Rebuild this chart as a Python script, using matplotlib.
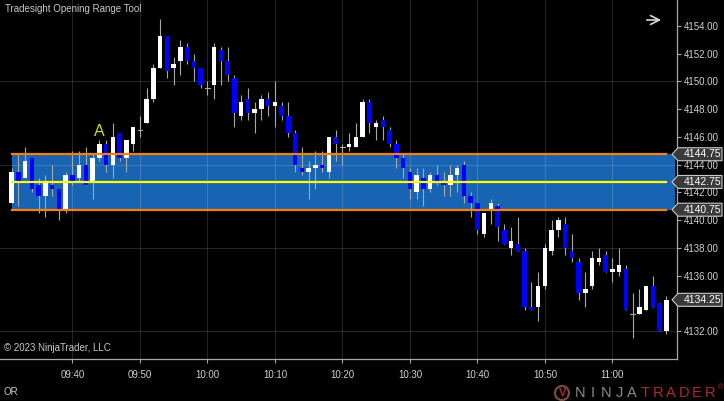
import numpy as np
import pandas as pd
import matplotlib
matplotlib.use('Agg')
import matplotlib.pyplot as plt
from matplotlib.patches import Rectangle, Polygon, Ellipse
from matplotlib.transforms import blended_transform_factory

plt.rcParams['font.family'] = ['Liberation Sans', 'DejaVu Sans']

# 1-minute bars, 09:31 .. 11:08
opens = [4141.25, 4143.5, 4143.0, 4144.5, 4142.5, 4141.75, 4142.5, 4142.25, 4140.75, 4143.25,
         4143.0, 4144.0, 4142.75, 4144.5, 4145.5, 4144.0, 4146.25, 4144.5, 4145.5, 4146.5,
         4147.0, 4148.75, 4151.0, 4153.25, 4151.0, 4151.5, 4152.5, 4151.5, 4151.0, 4149.5,
         4149.75, 4152.25, 4151.5, 4150.25, 4147.5, 4148.75, 4147.75, 4148.0, 4148.75, 4148.25,
         4148.25, 4147.5, 4146.25, 4143.75, 4143.5, 4143.75, 4144.0, 4143.5, 4146.0, 4145.25,
         4145.25, 4145.25, 4146.0, 4148.5, 4146.75, 4147.25, 4146.5, 4145.5, 4144.5, 4143.5,
         4142.0, 4143.0, 4142.25, 4143.25, 4142.75, 4142.5, 4143.25, 4144.0, 4141.75, 4141.25,
         4139.0, 4140.75, 4141.0, 4139.25, 4138.0, 4138.25, 4137.75, 4133.75, 4133.75, 4135.25,
         4137.75, 4139.25, 4139.75, 4137.75, 4137.0, 4134.75, 4135.25, 4137.0, 4137.5, 4136.25,
         4136.25, 4136.5, 4133.25, 4133.25, 4133.5, 4135.25, 4134.0, 4132.0]
highs = [4143.75, 4144.75, 4145.25, 4144.5, 4143.0, 4143.25, 4144.0, 4142.25, 4143.5, 4145.0,
         4145.0, 4145.25, 4144.75, 4145.75, 4145.75, 4147.0, 4146.25, 4145.75, 4146.75, 4147.5,
         4149.5, 4151.25, 4154.5, 4153.25, 4151.75, 4153.0, 4152.75, 4152.0, 4151.0, 4150.0,
         4152.75, 4152.5, 4152.5, 4150.5, 4149.0, 4149.5, 4148.5, 4149.0, 4149.25, 4150.0,
         4148.5, 4148.5, 4146.5, 4145.25, 4144.25, 4145.0, 4145.0, 4146.0, 4146.5, 4145.5,
         4146.25, 4147.0, 4148.75, 4148.75, 4147.25, 4147.5, 4146.75, 4145.75, 4144.75, 4143.75,
         4143.75, 4143.75, 4143.5, 4144.0, 4143.5, 4144.0, 4144.0, 4144.25, 4142.0, 4141.25,
         4140.5, 4141.5, 4141.25, 4139.75, 4139.5, 4140.25, 4138.0, 4135.5, 4136.25, 4138.25,
         4140.0, 4140.25, 4140.25, 4139.0, 4137.25, 4136.25, 4137.75, 4138.0, 4137.75, 4137.25,
         4138.0, 4136.75, 4134.75, 4135.0, 4135.25, 4136.0, 4134.0, 4134.5]
lows = [4141.25, 4141.0, 4143.0, 4142.0, 4140.5, 4140.25, 4141.75, 4140.0, 4140.5, 4142.5,
        4142.75, 4142.5, 4141.5, 4144.25, 4143.5, 4143.0, 4144.25, 4143.5, 4145.0, 4146.0,
        4147.0, 4148.5, 4151.0, 4150.25, 4149.75, 4150.5, 4151.25, 4150.0, 4149.5, 4149.0,
        4148.75, 4149.75, 4150.0, 4146.75, 4147.25, 4147.25, 4146.25, 4147.25, 4147.5, 4146.75,
        4147.25, 4146.0, 4143.5, 4143.25, 4141.5, 4142.25, 4143.5, 4143.0, 4144.25, 4144.0,
        4145.0, 4145.25, 4146.0, 4146.25, 4145.75, 4145.75, 4145.25, 4143.75, 4143.0, 4141.5,
        4141.5, 4141.0, 4142.0, 4142.5, 4141.75, 4141.75, 4142.0, 4141.25, 4140.25, 4139.0,
        4138.75, 4139.75, 4138.5, 4138.25, 4137.5, 4137.75, 4133.5, 4133.5, 4132.75, 4135.0,
        4137.5, 4138.75, 4137.5, 4137.0, 4134.25, 4133.75, 4135.0, 4136.75, 4136.25, 4135.5,
        4136.0, 4133.5, 4131.5, 4133.25, 4133.5, 4133.75, 4132.0, 4131.75]
closes = [4143.5, 4142.75, 4144.25, 4142.25, 4141.75, 4142.75, 4142.25, 4140.75, 4143.25, 4142.75,
          4144.0, 4142.5, 4144.5, 4145.5, 4144.0, 4146.0, 4144.5, 4145.75, 4146.75, 4146.5,
          4148.75, 4151.0, 4153.25, 4150.75, 4151.25, 4152.5, 4151.5, 4151.0, 4149.75, 4149.5,
          4152.5, 4151.5, 4150.5, 4147.75, 4148.5, 4147.75, 4148.0, 4148.75, 4148.25, 4148.5,
          4147.5, 4146.25, 4144.0, 4143.5, 4143.75, 4144.0, 4143.75, 4146.0, 4145.5, 4145.25,
          4145.5, 4146.0, 4148.5, 4147.0, 4147.0, 4146.75, 4145.5, 4144.5, 4143.75, 4142.25,
          4143.25, 4142.25, 4143.25, 4142.75, 4142.5, 4143.25, 4143.75, 4141.75, 4141.25, 4139.25,
          4140.5, 4141.25, 4139.5, 4138.25, 4138.5, 4137.75, 4133.75, 4133.5, 4135.25, 4138.0,
          4139.25, 4140.0, 4138.0, 4137.25, 4134.75, 4135.0, 4137.25, 4137.25, 4136.25, 4136.5,
          4136.75, 4133.5, 4133.25, 4133.75, 4135.25, 4133.75, 4132.0, 4134.25]

or_high = 4144.75
or_mid = 4142.75
or_low = 4140.75
last_price = 4134.25
marker_bar = 13          # bar with the "A" label
marker_price = 4146.4

x_ticks = ['09:40', '09:50', '10:00', '10:10', '10:20', '10:30', '10:40', '10:50', '11:00']
y_ticks = np.arange(4132, 4155, 2)
h_grid = [4132, 4138, 4144, 4150]

times = pd.date_range('2023-05-01 09:31', periods=len(opens), freq='min')
mins = np.array(times.hour * 60 + times.minute)
tick_mins = [int(t[:2]) * 60 + int(t[3:]) for t in x_ticks]

fig = plt.figure(figsize=(7.24, 4.01), dpi=100, facecolor='black')
ax = fig.add_axes([0, 1 - 359 / 401, 677 / 724, 359 / 401])
ax.set_facecolor('black')
ax.set_xlim(mins[0] - 1.73, mins[0] + 98.56)
ax.set_ylim(4129.98, 4155.875)

# opening range band
ax.add_patch(Rectangle((mins[0], or_low), mins[-1] + 1.3 - mins[0], or_high - or_low,
                       facecolor='#1964b2', edgecolor='none', zorder=1))

for t in tick_mins:
    ax.axvline(t, color='white', alpha=0.15, lw=0.8, zorder=1.5)
for p in h_grid:
    ax.axhline(p, color='white', alpha=0.15, lw=0.8, zorder=1.5)

# candles
for x, o, h, l, c in zip(mins, opens, highs, lows, closes):
    ax.plot([x, x], [l, h], color='#a8a8a8', lw=0.8, zorder=2, solid_capstyle='butt')
    lo, hi = min(o, c), max(o, c)
    col = 'white' if c >= o else '#0000ff'
    if hi - lo < 0.01:
        ax.plot([x - 0.33, x + 0.33], [lo, lo], color='#a8a8a8', lw=0.8, zorder=3)
    else:
        ax.add_patch(Rectangle((x - 0.33, lo), 0.66, hi - lo, facecolor=col,
                               edgecolor='none', zorder=3))

ax.plot([mins[0], mins[-1]], [or_high, or_high], color='#ff8000', lw=1.6, zorder=4)
ax.plot([mins[0], mins[-1]], [or_low, or_low], color='#ff8000', lw=1.6, zorder=4)
ax.plot([mins[0], mins[-1]], [or_mid, or_mid], color='#ffff00', lw=1.6, zorder=4)

ax.text(mins[marker_bar], marker_price, 'A', color='#c8dc28', fontsize=11.5,
        ha='center', va='center', zorder=5)

# axes styling
for s in ['left', 'top']:
    ax.spines[s].set_visible(False)
for s in ['right', 'bottom']:
    ax.spines[s].set_color('#a8a8a8')
    ax.spines[s].set_linewidth(0.9)
ax.yaxis.tick_right()
ax.set_yticks(y_ticks)
ax.set_yticklabels(['%.2f' % v for v in y_ticks])
ax.set_xticks(tick_mins)
ax.set_xticklabels(x_ticks)
ax.tick_params(axis='y', colors='#a8a8a8', labelcolor='#d0d0d0', labelsize=7, length=3, pad=2)
ax.tick_params(axis='x', colors='#a8a8a8', labelcolor='#d0d0d0', labelsize=7, length=3, pad=5)

# price markers on the right axis
tr = blended_transform_factory(fig.transFigure, ax.transData)
hh = 6.5 / 13.864
for p in [or_high, or_mid, or_low, last_price]:
    pts = [(672 / 724, p), (678 / 724, p + hh), (722 / 724, p + hh),
           (722 / 724, p - hh), (678 / 724, p - hh)]
    ax.add_patch(Polygon(pts, closed=True, transform=tr, facecolor='#3a3a3a',
                         edgecolor='#c8c8c8', lw=0.8, zorder=6, clip_on=False))
    ax.text(684 / 724, p, '%.2f' % p, transform=tr, color='white', fontsize=7.5,
            ha='left', va='center', zorder=7, clip_on=False)

fig.text(5 / 724, 1 - 9 / 401, 'Tradesight Opening Range Tool', color='#c8c8c8',
         fontsize=7, ha='left', va='center')
fig.text(4 / 724, 1 - 348 / 401, '\u00a9 2023 NinjaTrader, LLC', color='#c8c8c8',
         fontsize=7, ha='left', va='center')
fig.text(4 / 724, 1 - 392 / 401, 'OR', color='#c8c8c8', fontsize=7, ha='left', va='center')

ax.annotate('', xy=(664 / 724, 1 - 20 / 401), xytext=(644 / 724, 1 - 20 / 401),
            xycoords='figure fraction', textcoords='figure fraction',
            arrowprops=dict(arrowstyle='->', color='#d8d8d8', lw=1.2, mutation_scale=16))

# logo
fig.patches.append(Ellipse((562 / 724, 1 - 393 / 401), 14 / 724, 14 / 401,
                           transform=fig.transFigure, facecolor='none',
                           edgecolor='#7a4a3a', lw=1.6))
fig.text(563 / 724, 1 - 393 / 401, 'V', color='#b02a2a', fontsize=8, fontweight='bold',
         ha='center', va='center')
for i, ch in enumerate('NINJATRADER'):
    fig.text((580 + i * 13.0) / 724, 1 - 393 / 401, ch,
             color='#8c8c8c' if i < 5 else '#b02a2a', fontsize=10.5,
             ha='center', va='center')
fig.text(720 / 724, 1 - 388 / 401, '\u00ae', color='#b02a2a', fontsize=5,
         ha='center', va='center')

fig.savefig('out.png', dpi=100, facecolor='black')
